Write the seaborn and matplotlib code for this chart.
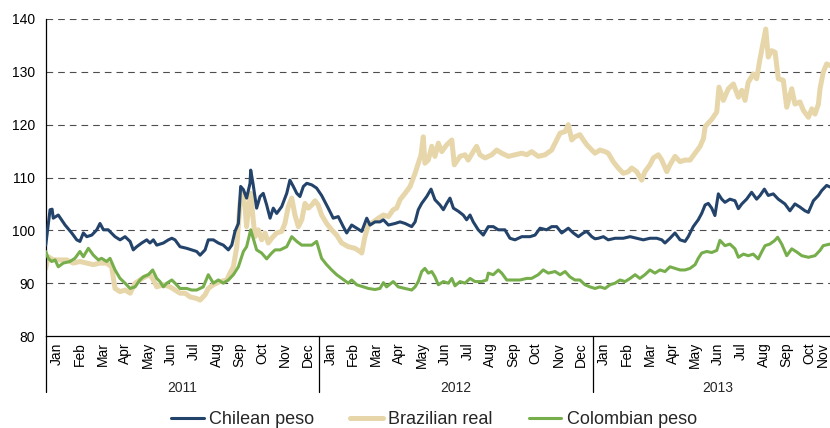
import numpy as np
import pandas as pd
import matplotlib
matplotlib.use("Agg")
import matplotlib.pyplot as plt
import matplotlib.transforms as mtransforms
from matplotlib.lines import Line2D
import seaborn as sns

# --- Data (time in months since 1 Jan 2011, index = 100) ---
years = ["2011", "2012", "2013"]
year_months = [12, 12, 11]  # 2013 shown up to Nov
month_names = ["Jan", "Feb", "Mar", "Apr", "May", "Jun",
               "Jul", "Aug", "Sep", "Oct", "Nov", "Dec"]
n_months = sum(year_months)

chl_t = [0.01, 0.20, 0.29, 0.34, 0.56, 0.86, 1.15, 1.37, 1.51, 1.66, 1.81, 2.03, 2.25, 2.39, 2.54,
         2.75, 3.05, 3.27, 3.49, 3.71, 3.85, 4.00, 4.22, 4.44, 4.58, 4.73, 4.88, 5.17, 5.39, 5.54,
         5.68, 5.90, 6.19, 6.41, 6.63, 6.78, 7.00, 7.14, 7.36, 7.58, 7.80, 8.02, 8.17, 8.31, 8.46,
         8.56, 8.68, 8.82, 8.97, 9.00, 9.10, 9.26, 9.41, 9.55, 9.70, 9.85, 9.99, 10.14, 10.36, 10.58,
         10.72, 10.87, 11.02, 11.16, 11.31, 11.46, 11.68, 11.89, 12.11, 12.40, 12.62, 12.84, 13.06,
         13.21, 13.43, 13.65, 13.87, 14.09, 14.23, 14.45, 14.67, 14.82, 15.04, 15.33, 15.55, 15.77,
         16.06, 16.21, 16.35, 16.50, 16.72, 16.91, 17.08, 17.30, 17.45, 17.60, 17.74, 17.89, 18.11,
         18.32, 18.47, 18.62, 18.76, 18.98, 19.20, 19.42, 19.64, 19.86, 20.15, 20.37, 20.59, 20.89,
         21.25, 21.47, 21.69, 21.98, 22.20, 22.42, 22.64, 22.93, 23.15, 23.37, 23.59, 23.74, 23.96,
         24.10, 24.25, 24.47, 24.68, 24.98, 25.34, 25.64, 25.93, 26.22, 26.51, 26.81, 27.03, 27.17,
         27.39, 27.61, 27.83, 28.05, 28.19, 28.41, 28.63, 28.78, 28.93, 29.07, 29.22, 29.36, 29.51,
         29.66, 29.80, 30.02, 30.24, 30.39, 30.54, 30.75, 30.97, 31.19, 31.34, 31.53, 31.70, 31.92,
         32.14, 32.43, 32.65, 32.87, 33.09, 33.31, 33.46, 33.68, 33.90, 34.04, 34.26, 34.41]
chl_v = [97.2, 103.9, 104.0, 102.3, 102.9, 101.0, 99.5, 98.2, 97.9, 99.5, 98.8, 99.1, 100.1, 101.3, 100.1,
         100.1, 98.8, 98.2, 98.8, 97.9, 96.3, 96.9, 97.6, 98.2, 97.6, 98.2, 97.2, 97.6, 98.2, 98.5,
         98.2, 96.9, 96.6, 96.3, 96.0, 95.3, 96.3, 98.2, 98.2, 97.6, 97.2, 96.3, 97.2, 99.8, 101.3,
         108.3, 107.7, 106.1, 108.9, 111.4, 108.9, 104.2, 106.4, 107.0, 104.8, 102.3, 104.2, 103.2, 104.5, 107.0,
         109.5, 108.3, 107.0, 106.4, 108.3, 108.9, 108.6, 108.0, 106.6, 104.2, 102.3, 102.6, 100.7,
         99.5, 101.0, 100.4, 99.8, 102.3, 101.0, 101.6, 101.6, 102.0, 101.0, 101.3, 101.6, 101.3,
         100.7, 101.6, 103.9, 105.1, 106.4, 107.8, 105.8, 104.8, 103.9, 105.1, 106.1, 104.2, 103.6,
         102.9, 102.0, 102.9, 101.6, 100.1, 99.1, 100.7, 100.7, 100.1, 100.1, 98.5, 98.2, 98.8,
         98.8, 99.1, 100.4, 100.1, 100.7, 100.7, 99.5, 100.4, 99.5, 98.8, 99.5, 99.8, 98.8,
         98.4, 98.5, 98.8, 98.2, 98.5, 98.5, 98.8, 98.5, 98.2, 98.5, 98.5, 98.2, 97.6,
         98.5, 99.5, 98.2, 97.9, 98.8, 100.7, 102.0, 103.2, 104.8, 105.1, 104.2, 102.8, 106.9,
         105.9, 105.3, 105.9, 105.6, 104.1, 105.0, 105.9, 107.2, 105.9, 106.6, 107.8, 106.6, 106.9,
         105.9, 105.0, 103.7, 105.0, 104.4, 103.7, 103.4, 105.6, 106.6, 107.5, 108.5, 108.2]

bra_t = [0.01, 0.12, 0.34, 0.64, 0.93, 1.22, 1.51, 1.81, 2.10, 2.39, 2.68, 2.90, 3.05, 3.27, 3.49,
         3.71, 3.93, 4.14, 4.36, 4.58, 4.73, 4.88, 5.17, 5.46, 5.68, 5.90, 6.12, 6.34, 6.63, 6.78,
         7.00, 7.14, 7.36, 7.65, 7.95, 8.09, 8.24, 8.39, 8.53, 8.61, 8.75, 8.82, 8.94, 9.00, 9.11,
         9.19, 9.33, 9.48, 9.63, 9.77, 9.92, 10.14, 10.36, 10.50, 10.65, 10.80, 10.94, 11.09, 11.24,
         11.38, 11.53, 11.68, 11.82, 11.96, 12.11, 12.33, 12.55, 12.77, 12.99, 13.28, 13.57, 13.79,
         13.87, 14.01, 14.16, 14.38, 14.60, 14.82, 15.04, 15.25, 15.40, 15.55, 15.77, 15.99, 16.21,
         16.35, 16.47, 16.57, 16.64, 16.79, 16.94, 17.08, 17.23, 17.38, 17.60, 17.82, 17.93, 18.18,
         18.40, 18.54, 18.76, 18.91, 19.05, 19.28, 19.57, 19.79, 20.01, 20.30, 20.59, 20.89, 21.11,
         21.32, 21.61, 21.91, 22.20, 22.35, 22.57, 22.79, 22.93, 23.08, 23.22, 23.44, 23.59, 23.74,
         23.96, 24.10, 24.32, 24.54, 24.68, 24.90, 25.12, 25.34, 25.56, 25.71, 25.93, 26.15, 26.29,
         26.51, 26.66, 26.88, 27.03, 27.25, 27.39, 27.61, 27.83, 28.05, 28.27, 28.49, 28.71, 28.86,
         28.93, 29.07, 29.22, 29.44, 29.54, 29.73, 29.95, 30.17, 30.39, 30.54, 30.68, 30.82, 31.04,
         31.19, 31.34, 31.48, 31.59, 31.70, 31.85, 32.00, 32.14, 32.36, 32.51, 32.73, 32.87, 33.09,
         33.24, 33.46, 33.61, 33.75, 33.90, 33.97, 34.11, 34.26, 34.41]
bra_v = [92.8, 95.0, 94.4, 94.4, 94.4, 93.8, 94.1, 93.8, 93.5, 93.8, 93.8, 93.1, 89.0, 88.4, 88.7,
         88.1, 90.0, 90.6, 91.2, 91.6, 90.6, 89.3, 89.7, 89.3, 88.7, 88.1, 88.1, 87.4, 87.1, 86.8,
         87.8, 89.0, 89.7, 90.3, 90.6, 91.9, 93.1, 96.9, 105.1, 107.0, 104.5, 100.7, 105.8, 107.0, 102.0,
         98.8, 100.1, 98.2, 99.5, 97.6, 98.5, 99.5, 99.8, 101.3, 104.5, 106.1, 102.9, 100.7, 102.0,
         105.1, 104.2, 104.8, 105.6, 104.8, 102.9, 101.3, 100.1, 99.1, 97.6, 96.9, 96.6, 96.0,
         95.7, 98.8, 101.0, 101.6, 102.3, 102.9, 102.6, 103.9, 104.2, 105.8, 107.0, 108.3, 110.8,
         112.7, 114.3, 117.7, 112.7, 113.3, 115.9, 114.0, 116.5, 114.9, 116.2, 117.1, 112.4, 114.0,
         114.3, 113.3, 114.9, 115.9, 114.3, 113.7, 114.3, 115.2, 114.6, 114.0, 114.3, 114.6, 114.3,
         114.9, 114.0, 114.3, 115.2, 116.5, 118.4, 118.7, 120.0, 117.1, 117.7, 118.1, 117.1, 116.2,
         115.2, 114.6, 115.2, 114.9, 114.6, 113.0, 111.8, 110.8, 111.1, 111.8, 111.1, 109.5, 111.1,
         112.4, 113.7, 114.3, 113.3, 111.1, 112.4, 114.0, 113.0, 113.3, 113.3, 114.6, 115.9, 117.4,
         119.6, 120.3, 121.0, 122.4, 127.1, 124.6, 126.8, 127.7, 125.2, 126.5, 124.6, 128.0, 129.6,
         128.7, 132.5, 135.6, 138.1, 132.8, 134.0, 133.7, 128.7, 128.4, 123.3, 126.8, 123.9, 124.3,
         122.7, 121.4, 123.0, 122.0, 123.9, 126.8, 129.9, 131.5, 131.2]

col_t = [0.01, 0.12, 0.27, 0.42, 0.56, 0.78, 1.07, 1.29, 1.51, 1.66, 1.88, 2.10, 2.32, 2.46, 2.68,
         2.83, 3.05, 3.27, 3.49, 3.71, 3.93, 4.14, 4.29, 4.51, 4.70, 4.88, 5.02, 5.17, 5.32, 5.54,
         5.68, 5.90, 6.19, 6.41, 6.63, 6.92, 7.14, 7.36, 7.58, 7.80, 8.02, 8.24, 8.46, 8.68, 8.82,
         9.00, 9.11, 9.26, 9.48, 9.70, 9.92, 10.07, 10.29, 10.58, 10.80, 11.02, 11.24, 11.46, 11.68,
         11.89, 11.96, 12.11, 12.33, 12.55, 12.77, 12.99, 13.28, 13.43, 13.65, 13.94, 14.16, 14.45,
         14.67, 14.82, 14.96, 15.25, 15.47, 15.77, 16.06, 16.21, 16.35, 16.50, 16.64, 16.79, 16.94,
         17.08, 17.23, 17.45, 17.67, 17.82, 17.96, 18.18, 18.40, 18.62, 18.84, 19.13, 19.35, 19.42,
         19.64, 19.86, 20.01, 20.23, 20.52, 20.81, 21.11, 21.32, 21.61, 21.83, 22.05, 22.35, 22.57,
         22.79, 23.00, 23.22, 23.44, 23.66, 23.88, 24.10, 24.32, 24.54, 24.76, 24.98, 25.20, 25.42,
         25.64, 25.86, 26.07, 26.29, 26.51, 26.73, 26.95, 27.17, 27.39, 27.61, 27.83, 28.05, 28.27,
         28.49, 28.63, 28.78, 29.00, 29.22, 29.44, 29.58, 29.80, 30.02, 30.24, 30.39, 30.61, 30.82,
         31.04, 31.26, 31.41, 31.56, 31.77, 31.99, 32.11, 32.29, 32.51, 32.73, 32.95, 33.17, 33.46,
         33.75, 33.97, 34.11, 34.41]
col_v = [96.0, 94.7, 94.1, 94.4, 93.1, 93.8, 94.1, 94.7, 96.0, 95.0, 96.6, 95.3, 94.4, 94.7, 94.1,
         94.7, 92.5, 90.9, 90.0, 89.0, 89.3, 90.6, 91.2, 91.6, 92.5, 90.9, 90.3, 89.3, 90.0, 90.6,
         90.0, 89.0, 89.0, 88.7, 88.7, 89.3, 91.6, 90.0, 90.6, 90.0, 90.6, 91.6, 93.1, 96.0, 96.9,
         100.1, 98.5, 96.3, 95.7, 94.6, 95.7, 96.3, 96.3, 96.9, 98.8, 97.9, 97.2, 97.2, 97.2,
         97.9, 96.9, 94.7, 93.5, 92.5, 91.6, 90.9, 90.0, 90.6, 89.7, 89.3, 89.0, 88.8,
         89.0, 90.1, 89.3, 90.3, 89.3, 89.0, 88.7, 89.3, 90.3, 92.2, 92.8, 91.9, 92.2,
         91.2, 89.7, 90.3, 90.0, 90.9, 89.5, 90.3, 90.0, 90.9, 90.3, 90.3, 90.6, 91.9,
         91.6, 92.5, 91.9, 90.6, 90.6, 90.6, 90.9, 90.9, 91.6, 92.5, 91.9, 92.2, 91.6,
         92.2, 91.2, 90.6, 90.6, 89.7, 89.3, 89.0, 89.3, 89.0, 89.7, 90.0, 90.6, 90.3,
         90.9, 91.6, 90.9, 91.6, 92.5, 91.9, 92.5, 92.2, 93.1, 92.8, 92.5, 92.5, 92.8,
         93.5, 94.7, 95.7, 96.0, 95.8, 96.2, 98.1, 97.1, 97.4, 96.5, 94.9, 95.5, 95.2,
         95.5, 94.6, 95.9, 97.1, 97.4, 98.1, 98.7, 97.4, 95.2, 96.5, 95.9, 95.2, 94.9,
         95.2, 96.2, 97.1, 97.4]

series = ["Chilean peso", "Brazilian real", "Colombian peso"]
colors = {"Chilean peso": "#23436b", "Brazilian real": "#e6d6a9", "Colombian peso": "#77ae4c"}
widths = {"Chilean peso": 2.2, "Brazilian real": 3.6, "Colombian peso": 2.2}
layer = {"Chilean peso": 4, "Brazilian real": 2, "Colombian peso": 3}

df = pd.concat([
    pd.DataFrame({"t": chl_t, "value": chl_v, "currency": "Chilean peso"}),
    pd.DataFrame({"t": bra_t, "value": bra_v, "currency": "Brazilian real"}),
    pd.DataFrame({"t": col_t, "value": col_v, "currency": "Colombian peso"}),
])

# --- Style ---
sns.set_style("white")
plt.rcParams["font.family"] = ["Liberation Sans", "DejaVu Sans"]

W, H = 830, 428
fig = plt.figure(figsize=(W / 100, H / 100), dpi=100)
# the plot area runs a little past the right edge of the picture (cropped like the original)
x0, x1, y_top, y_bot = 45.5, 843.5, 19, 336
ax = fig.add_axes([x0 / W, (H - y_bot) / H, (x1 - x0) / W, (y_bot - y_top) / H])

for name in series:
    sub = df[df["currency"] == name]
    sns.lineplot(data=sub, x="t", y="value", ax=ax, color=colors[name],
                 linewidth=widths[name], zorder=layer[name], legend=False)

# dashed gridlines (not at the axis line)
for yv in range(90, 141, 10):
    ax.axhline(yv, color="#4d4d4d", lw=0.8, linestyle=(0, (6, 4.5)), zorder=1)

ax.set_xlim(0, n_months)
ax.set_ylim(80, 140)
ax.set_yticks(range(80, 141, 10))
ax.set_xlabel("")
ax.set_ylabel("")

for s in ["top", "right"]:
    ax.spines[s].set_visible(False)
for s in ["left", "bottom"]:
    ax.spines[s].set_color("black")
    ax.spines[s].set_linewidth(0.9)

# month labels at centres, ticks at month boundaries
labels = [month_names[i % 12] for i in range(n_months)]
label_pos = list(np.arange(n_months) + 0.5)
label_pos[-1] = 34.1  # last month is only partly visible: keep its label inside the picture
ax.set_xticks(label_pos)
ax.set_xticklabels(labels, rotation=90, fontsize=10)
ax.set_xticks(np.arange(0, n_months + 1), minor=True)
ax.tick_params(axis="x", which="major", length=0, pad=4.5, colors="black")
ax.tick_params(axis="x", which="minor", length=2.5, width=0.8, direction="out", color="black")
ax.tick_params(axis="y", length=3, width=0.8, direction="out", pad=4.5, labelsize=10,
               colors="black")

# year separators and labels below the month row
trans = mtransforms.blended_transform_factory(ax.transData, ax.transAxes)
starts = np.concatenate([[0], np.cumsum(year_months)])
for b in starts:
    ax.plot([b, b], [0, -0.177], transform=trans, color="black", lw=0.9, clip_on=False)
for i, yr in enumerate(years):
    ax.text((starts[i] + starts[i + 1]) / 2, -0.164, yr, transform=trans,
            ha="center", va="center", fontsize=10)

handles = [Line2D([], [], color=colors[n], lw=widths[n]) for n in series]
fig.legend(handles, series, loc="center", bbox_to_anchor=(0.523, 0.019), ncol=3,
           frameon=False, fontsize=13, handlelength=1.8, handletextpad=0.3,
           columnspacing=2.0, borderpad=0.1)

fig.savefig("out.png", dpi=100)
